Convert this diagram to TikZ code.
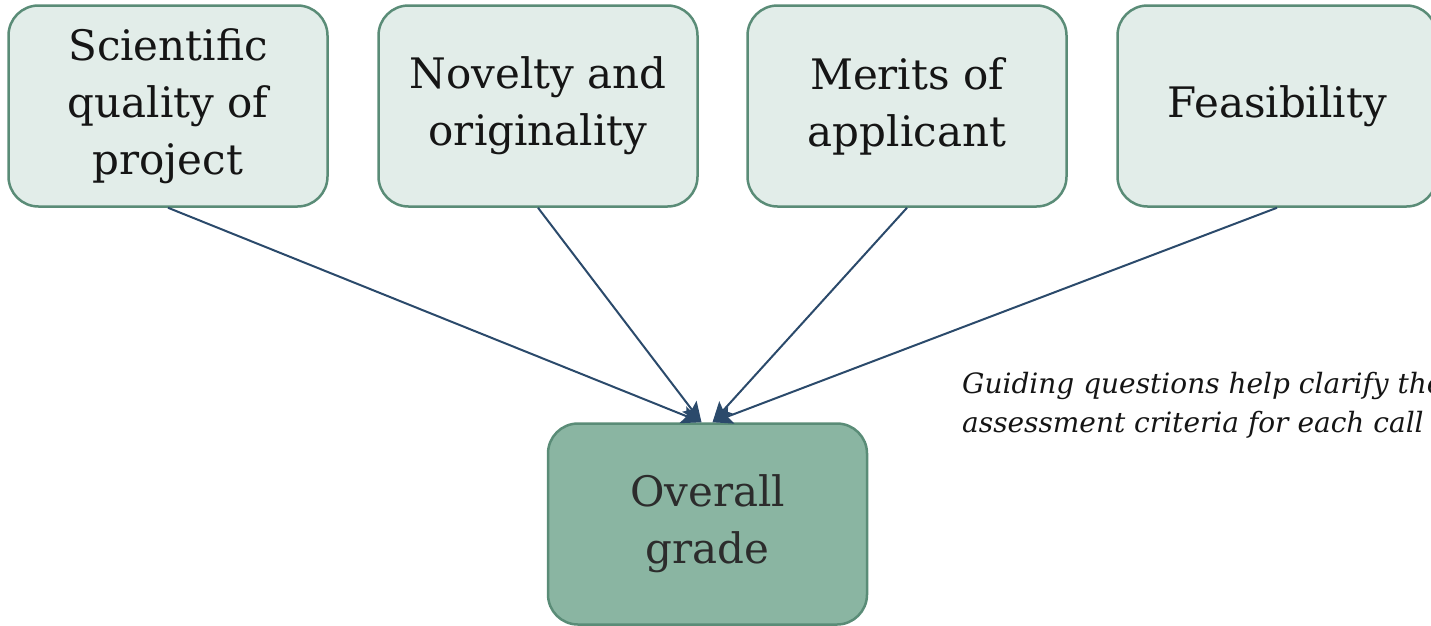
\documentclass[tikz,border=0pt]{standalone}
\usepackage{fontspec}
\setmainfont{DejaVu Serif}
\usetikzlibrary{arrows.meta,calc}
\definecolor{lightfill}{HTML}{E2EDE9}
\definecolor{boxedge}{HTML}{5A8C77}
\definecolor{darkfill}{HTML}{8AB5A2}
\definecolor{arrowcol}{HTML}{2B4A6B}
\definecolor{txt}{HTML}{151515}
\begin{document}
\begin{tikzpicture}[x=1pt,y=1pt,
  crit/.style={draw=boxedge, line width=2.5pt, fill=lightfill, rounded corners=30pt,
    minimum width=319pt, minimum height=201pt, align=center, text=txt,
    font=\fontsize{42}{57}\selectfont, inner sep=0pt},
  overall/.style={crit, fill=darkfill, text=txt!90},
  link/.style={draw=arrowcol, line width=2pt, -{Stealth[length=20pt,width=18pt,inset=4pt]}},
  note/.style={font=\fontsize{28}{39}\selectfont\itshape, align=left, anchor=north west, inner sep=0pt, text=txt}
]
\useasboundingbox (0,0) rectangle (1431,-625);
\node[crit] (sci) at (168,-106) {Scientific\\quality of\\project};
\node[crit] (nov) at (538,-106) {Novelty and\\originality};
\node[crit] (mer) at (907,-106) {Merits of\\applicant};
\node[crit] (fea) at (1277,-106) {Feasibility};
\node[overall] (ov) at (707.5,-524) {Overall\\grade};
\coordinate (inL) at ($(ov.north)+(-6,0)$);
\coordinate (inR) at ($(ov.north)+(5,0)$);
\draw[link] (sci.south) -- (inL);
\draw[link] (nov.south) -- (inL);
\draw[link] (mer.south) -- (inR);
\draw[link] (fea.south) -- (inR);
\node[note] (gq) at (962,-372) {Guiding questions help clarify the\\assessment criteria for each call};
\end{tikzpicture}
\end{document}
